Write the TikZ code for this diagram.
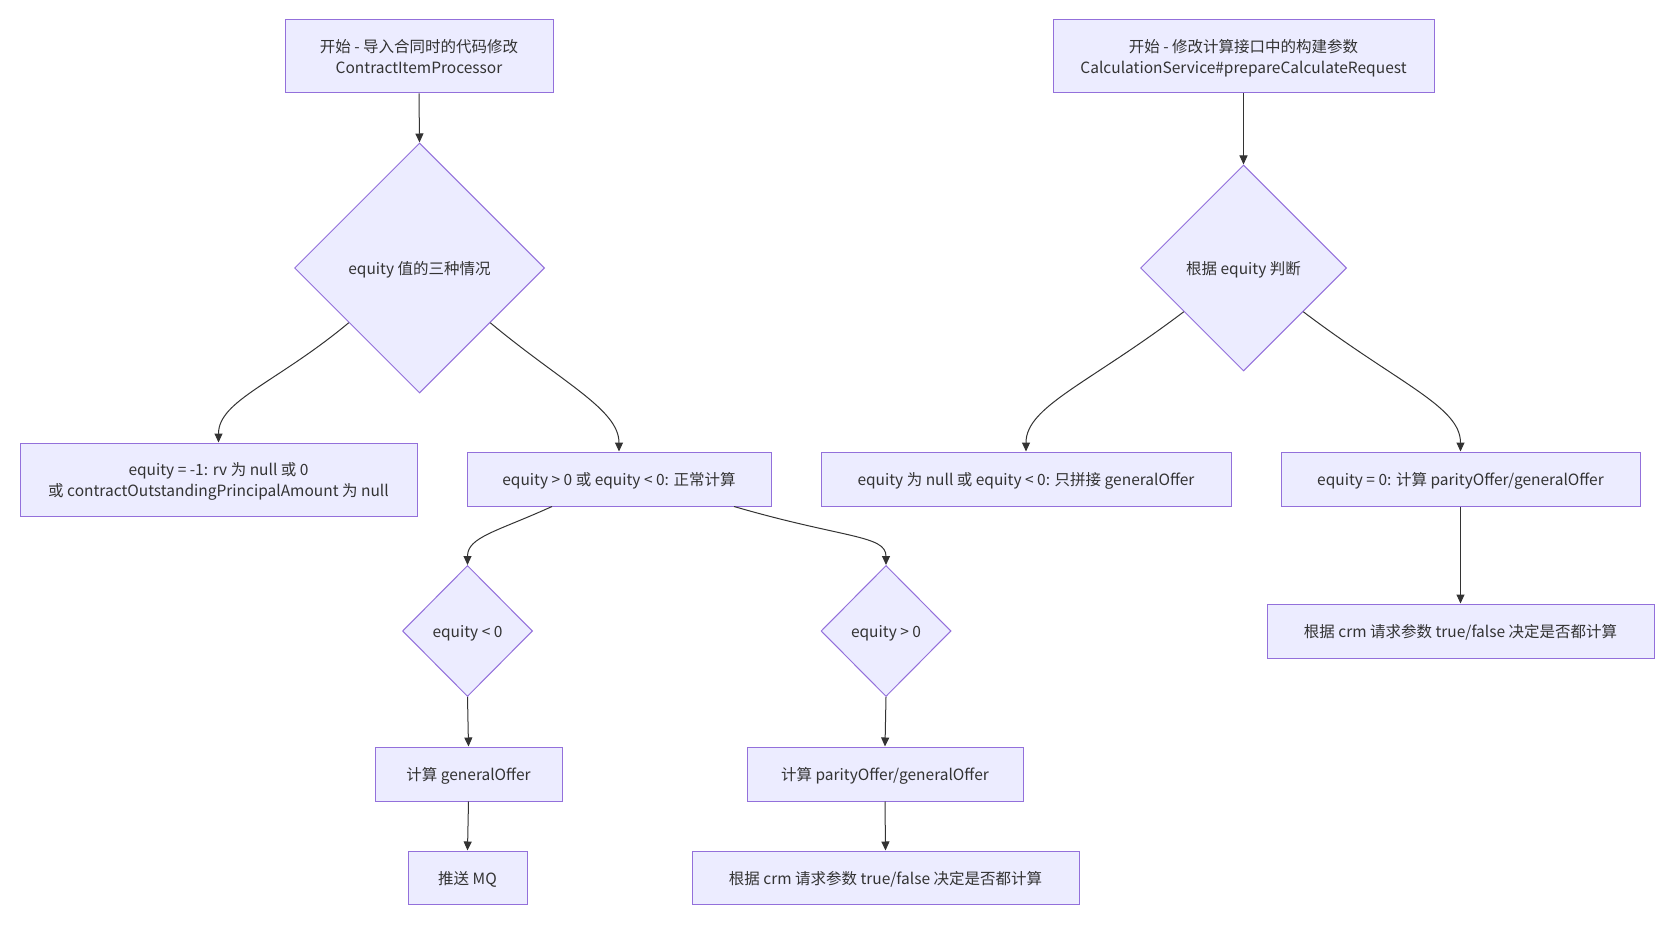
\documentclass[tikz,border=0pt]{standalone}
\usepackage{fontspec}
\setmainfont{Noto Sans CJK SC}
\usetikzlibrary{shapes.geometric,arrows.meta}
\definecolor{nfill}{HTML}{ECECFF}
\definecolor{nstroke}{HTML}{9370DB}
\definecolor{ink}{HTML}{333333}
\tikzset{
  base/.style={draw=nstroke, fill=nfill, line width=1pt, text=ink, align=center,
    font=\fontsize{15.5}{20.3}\selectfont, inner sep=0pt, text depth=0pt},
  box/.style={base, rectangle},
  dia/.style={base, diamond, aspect=1},
  link/.style={draw=ink, line width=1pt, -{Triangle[length=9pt,width=8pt]}},
}
\begin{document}
\begin{tikzpicture}[x=1pt,y=-1pt]
\useasboundingbox[fill=white] (0,0) rectangle (1674,925);
% left flow
\node[box, minimum width=268pt, minimum height=73pt] (s1) at (419,56.5) {开始 - 导入合同时的代码修改\\ContractItemProcessor};
\node[dia, minimum width=250pt, minimum height=250pt] (d1) at (419.5,268) {equity 值的三种情况};
\node[box, minimum width=397pt, minimum height=73pt] (a) at (218.5,479.5) {equity = -1: rv 为 null 或 0\\或 contractOutstandingPrincipalAmount 为 null};
\node[box, minimum width=304pt, minimum height=54pt] (b) at (619,479) {equity > 0 或 equity < 0: 正常计算};
\node[dia, minimum width=130pt, minimum height=131pt] (d2) at (467.5,631) {equity < 0};
\node[dia, minimum width=130pt, minimum height=131pt] (d3) at (886,631) {equity > 0};
\node[box, minimum width=187pt, minimum height=54pt] (c) at (468.5,774) {计算 generalOffer};
\node[box, minimum width=276pt, minimum height=54pt] (d) at (885,774) {计算 parityOffer/generalOffer};
\node[box, minimum width=119pt, minimum height=53pt] (e) at (467.5,877.5) {推送 MQ};
\node[box, minimum width=387pt, minimum height=53pt] (f) at (885.5,877.5) {根据 crm 请求参数 true/false 决定是否都计算};
% right flow
\node[box, minimum width=381pt, minimum height=73pt] (s2) at (1243.5,56.5) {开始 - 修改计算接口中的构建参数\\CalculationService\#prepareCalculateRequest};
\node[dia, minimum width=206pt, minimum height=206pt] (d4) at (1243.5,268) {根据 equity 判断};
\node[box, minimum width=410pt, minimum height=54pt] (g) at (1026,479) {equity 为 null 或 equity < 0: 只拼接 generalOffer};
\node[box, minimum width=359pt, minimum height=54pt] (h) at (1460.5,479) {equity = 0: 计算 parityOffer/generalOffer};
\node[box, minimum width=387pt, minimum height=54pt] (i) at (1460.5,631) {根据 crm 请求参数 true/false 决定是否都计算};
% connectors
\draw[link] (s1.south) -- (d1.north);
\draw[link] ([shift={(-8pt,8pt)}]d1.south west) .. controls +(-72,60) and +(0,-42) .. (a.north);
\draw[link] ([shift={(8pt,8pt)}]d1.south east) .. controls +(72,60) and +(0,-42) .. (b.north);
\draw[link] ([xshift=-67pt]b.south) .. controls +(-55,25) and +(0,-28) .. (d2.north);
\draw[link] ([xshift=115pt]b.south) .. controls +(110,32) and +(0,-30) .. (d3.north);
\draw[link] (d2.south) -- (c.north);
\draw[link] (c.south) -- (e.north);
\draw[link] (d3.south) -- (d.north);
\draw[link] (d.south) -- (f.north);
\draw[link] (s2.south) -- (d4.north);
\draw[link] ([shift={(-8pt,8pt)}]d4.south west) .. controls +(-95,72) and +(0,-45) .. (g.north);
\draw[link] ([shift={(8pt,8pt)}]d4.south east) .. controls +(95,72) and +(0,-45) .. (h.north);
\draw[link] (h.south) -- (i.north);
\end{tikzpicture}
\end{document}
